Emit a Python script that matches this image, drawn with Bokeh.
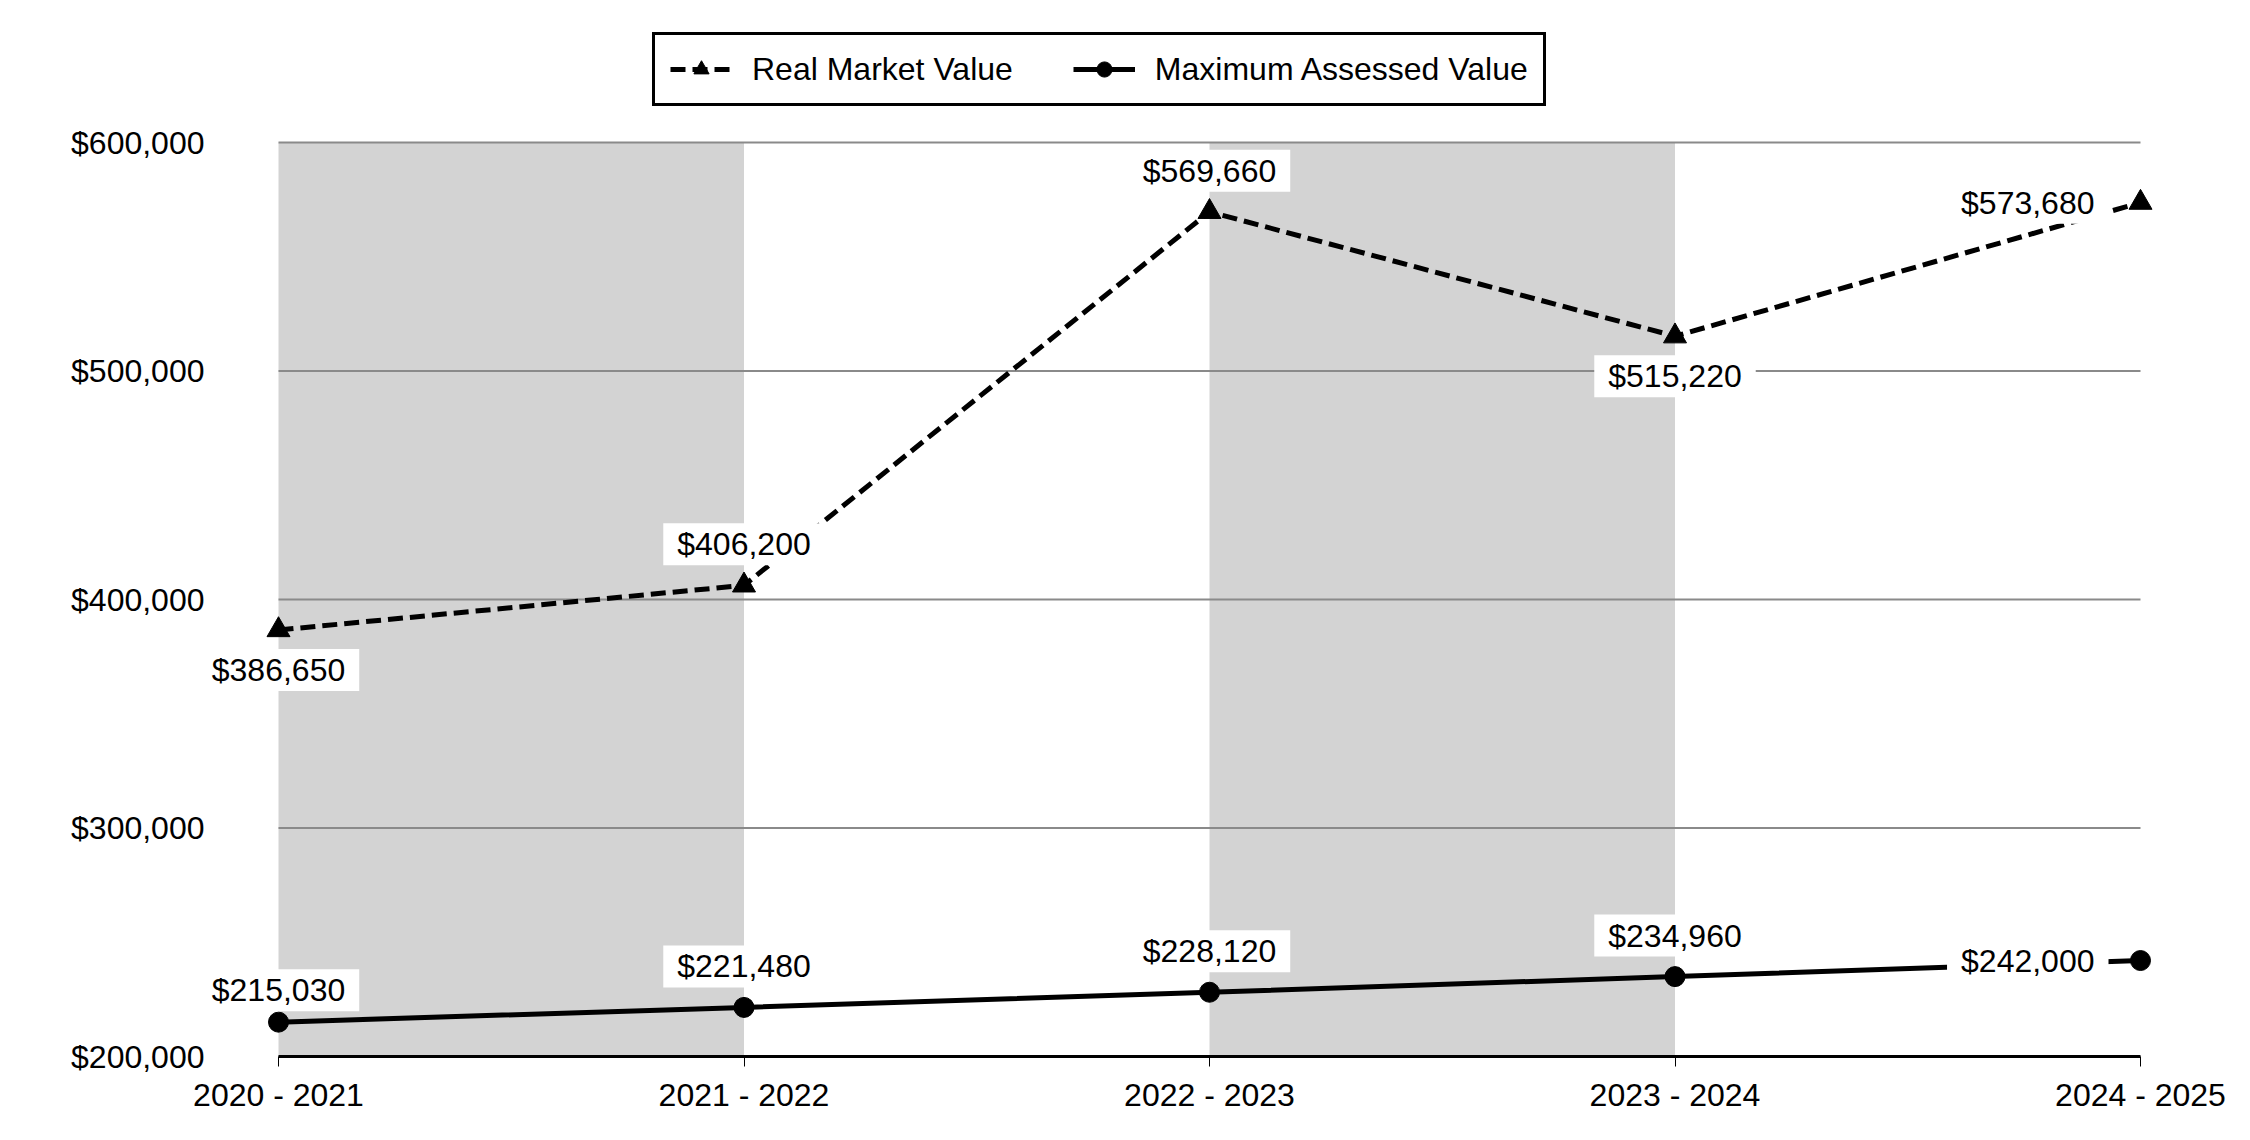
from bokeh.plotting import figure
from bokeh.models import (Range1d, FixedTicker, NumeralTickFormatter, Legend, LegendItem, Label)
from bokeh.embed import file_html
from bokeh.resources import INLINE

# ---- data ----
categories = ["2020 - 2021", "2021 - 2022", "2022 - 2023", "2023 - 2024", "2024 - 2025"]
real_market_value = [386650, 406200, 569660, 515220, 573680]
max_assessed_value = [215030, 221480, 228120, 234960, 242000]
y_ticks = [200000, 300000, 400000, 500000, 600000]
shaded_bands = [(0, 1), (2, 3)]
rmv_label_pos = ["below", "above", "above", "below", "left"]
mav_label_pos = ["above_near", "above", "above", "above", "left"]

FONT = "Liberation Sans"
FS = "32px"

xs = list(range(len(categories)))
x_last = len(categories) - 1

# frame geometry (pixels); the frame extends up to hold the legend
FRAME_L, FRAME_R, FRAME_T, FRAME_B = 190, 2160, 10, 1060
AX_L, AX_R, AX_T, AX_B = 278, 2140, 142, 1056   # where x 0..4 and y 200k..600k land
W, H = 2234, 1124
ppx = (AX_R - AX_L) / x_last
ppy = (AX_B - AX_T) / (y_ticks[-1] - y_ticks[0])
x_start = -(AX_L - FRAME_L) / ppx
x_end = x_last + (FRAME_R - AX_R) / ppx
y_start = y_ticks[0] - (FRAME_B - AX_B) / ppy
y_end = y_ticks[-1] + (AX_T - FRAME_T) / ppy

p = figure(width=W, height=H,
           x_range=Range1d(x_start, x_end),
           y_range=Range1d(y_start, y_end),
           min_border_left=FRAME_L, min_border_right=W - FRAME_R,
           min_border_top=FRAME_T, min_border_bottom=H - FRAME_B,
           output_backend="svg", toolbar_location=None)
p.outline_line_color = None
p.background_fill_color = "white"
p.border_fill_color = "white"
p.xgrid.visible = False
p.ygrid.visible = False

# shaded bands
p.quad(left=[b[0] for b in shaded_bands], right=[b[1] for b in shaded_bands],
       bottom=y_ticks[0], top=y_ticks[-1], fill_color="#D3D3D3", line_color=None,
       level="image")

# horizontal gridlines spanning first to last category
p.segment(x0=0, x1=x_last, y0=y_ticks[1:], y1=y_ticks[1:],
          line_color="#8A8A8A", line_width=2, level="underlay")
# baseline (category axis line)
p.segment(x0=[0], x1=[x_last], y0=[y_ticks[0]], y1=[y_ticks[0]],
          line_color="black", line_width=3, level="underlay")

# axes
p.xaxis.ticker = FixedTicker(ticks=xs)
p.xaxis.major_label_overrides = {i: c for i, c in enumerate(categories)}
p.xaxis.axis_line_color = None
p.xaxis.major_tick_in = 4
p.xaxis.major_tick_out = 6
p.xaxis.major_tick_line_color = "black"
p.xaxis.major_tick_line_width = 1
p.xaxis.minor_tick_line_color = None
p.xaxis.major_label_standoff = 10
p.xaxis.major_label_text_font = FONT
p.xaxis.major_label_text_font_size = FS
p.xaxis.major_label_text_color = "black"

p.yaxis.ticker = FixedTicker(ticks=y_ticks)
p.yaxis.formatter = NumeralTickFormatter(format="$0,0")
p.yaxis.axis_line_color = None
p.yaxis.major_tick_line_color = None
p.yaxis.minor_tick_line_color = None
p.yaxis.major_tick_out = 0
p.yaxis.major_tick_in = 0
p.yaxis.major_label_standoff = FRAME_L - 204
p.yaxis.major_label_text_font = FONT
p.yaxis.major_label_text_font_size = FS
p.yaxis.major_label_text_color = "black"

# series
rmv_line = p.line(xs, real_market_value, line_color="black", line_width=5, line_dash="15 7")
rmv_pts = p.scatter(xs, real_market_value, marker="triangle", size=23,
                    fill_color="black", line_color="black")
mav_line = p.line(xs, max_assessed_value, line_color="black", line_width=5)
mav_pts = p.scatter(xs, max_assessed_value, marker="circle", size=20,
                    fill_color="black", line_color="black")

# data labels
def add_labels(vals, positions):
    for i, (v, pos) in enumerate(zip(vals, positions)):
        kw = dict(x=i, y=v, text=f"${v:,}", text_font=FONT, text_font_size=FS,
                  text_color="black", text_baseline="middle",
                  background_fill_color="white", padding=(14, 3))
        if pos == "above":
            kw.update(text_align="center", y_offset=41)
        elif pos == "above_near":
            kw.update(text_align="center", y_offset=32)
        elif pos == "below":
            kw.update(text_align="center", y_offset=-40)
        else:
            kw.update(text_align="right", x_offset=-32)
        p.add_layout(Label(**kw))

add_labels(real_market_value, rmv_label_pos)
add_labels(max_assessed_value, mav_label_pos)

# legend (placed in the frame's upper strip, above the plotting area)
LEG_LEFT, LEG_TOP, LEG_H = 652, 36, 70
legend = Legend(items=[
    LegendItem(label="Real Market Value", renderers=[rmv_line, rmv_pts]),
    LegendItem(label="Maximum Assessed Value", renderers=[mav_line, mav_pts]),
], orientation="horizontal",
   location=(LEG_LEFT - FRAME_L, FRAME_B - LEG_TOP - LEG_H))
legend.label_text_font = FONT
legend.label_text_font_size = FS
legend.label_text_color = "black"
legend.glyph_width = 62
legend.glyph_height = 38
legend.label_standoff = 20
legend.spacing = 60
legend.padding = 15
legend.margin = 0
legend.border_line_color = "black"
legend.border_line_width = 3
legend.border_line_alpha = 1.0
legend.background_fill_color = "white"
legend.background_fill_alpha = 1
p.add_layout(legend, "center")

open("out.html", "w").write(file_html(p, INLINE))
